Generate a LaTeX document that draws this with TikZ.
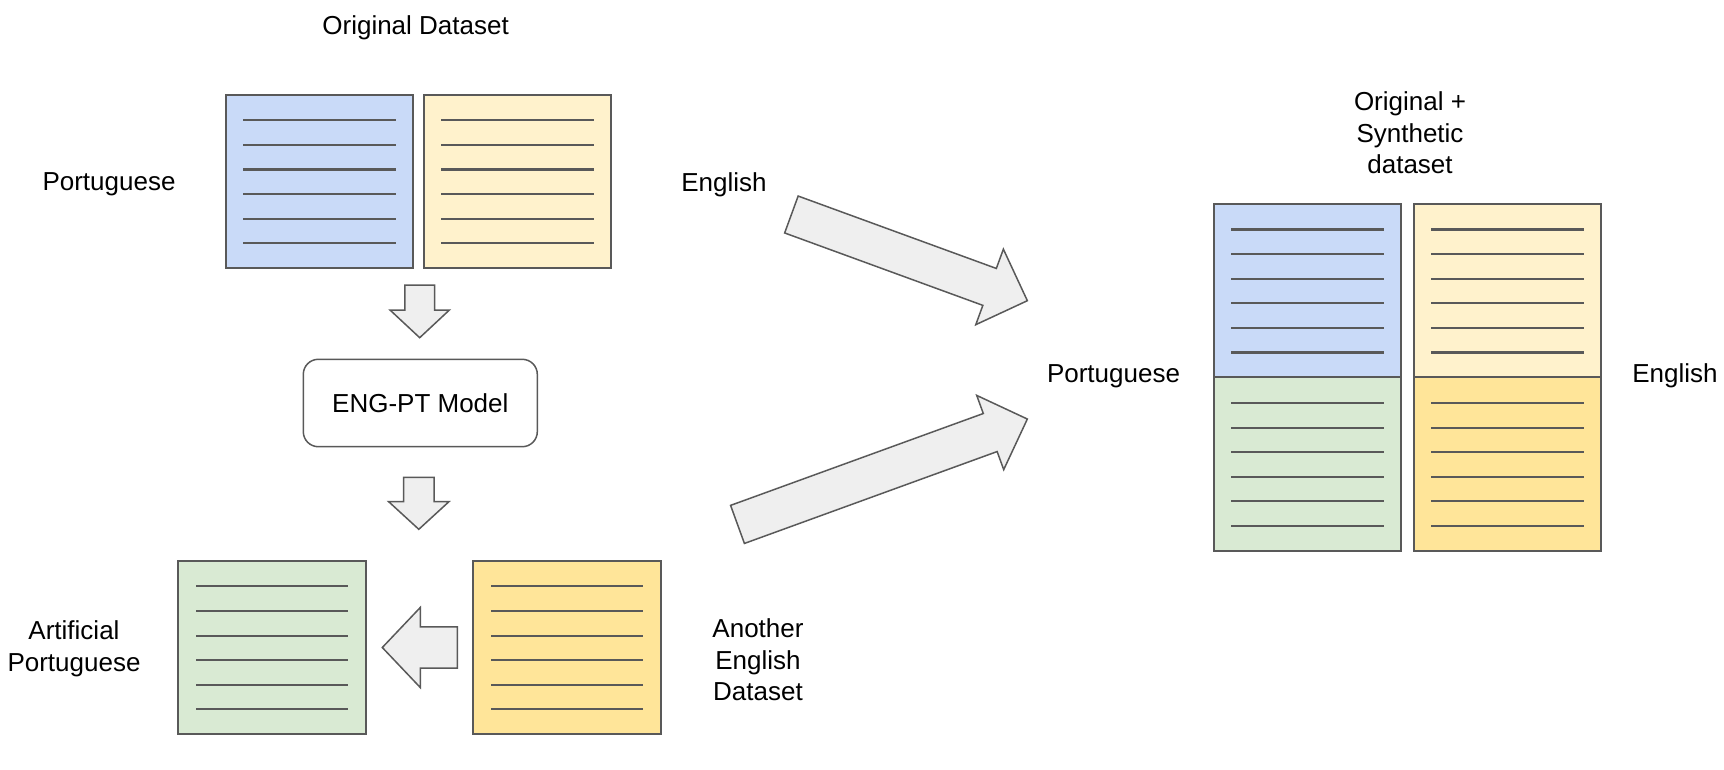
\documentclass[tikz,border=0pt]{standalone}
\usepackage{fontspec}
\setmainfont{Liberation Sans}
\usetikzlibrary{shapes.arrows}

\definecolor{ptblue}{HTML}{C9DAF8}
\definecolor{enpale}{HTML}{FFF2CC}
\definecolor{engold}{HTML}{FFE599}
\definecolor{ptgreen}{HTML}{D9EAD3}
\definecolor{edge}{HTML}{595959}
\definecolor{arrowfill}{HTML}{EFEFEF}

\begin{document}
\begin{tikzpicture}[x=1pt, y=-1pt,
    every node/.style={font=\fontsize{26}{31.5}\selectfont},
    doc/.style={draw=edge, line width=2pt, inner sep=0pt, outer sep=0pt,
        minimum width=187.6pt, minimum height=173.6pt},
    docline/.style={draw=edge, line width=2.1pt},
    blockarrow/.style={single arrow, draw=edge, fill=arrowfill, line width=1.5pt,
        inner xsep=0pt, outer sep=0pt, single arrow head indent=0pt, anchor=tail},
    label/.style={align=center}]
        \useasboundingbox (0,0) rectangle (1724,769);

        % Original dataset (top left)
        \node[doc, fill=ptblue] (origpt) at (319.5, 181.5) {};
        \node[doc, fill=enpale] (origen) at (517.5, 181.5) {};

        % Translated dataset (bottom left)
        \node[doc, fill=ptgreen] (artpt) at (272.2, 647.6) {};
        \node[doc, fill=engold] (anoen) at (567.2, 647.6) {};

        % Original + synthetic (right)
        \node[doc, fill=ptblue] (sumpt) at (1307.5, 290.7) {};
        \node[doc, fill=enpale] (sumen) at (1507.3, 290.7) {};
        \node[doc, fill=ptgreen] (sumart) at (1307.5, 464.2) {};
        \node[doc, fill=engold] (sumano) at (1507.3, 464.2) {};

        % Text lines in every sheet
        \foreach \b in {origpt, origen, artpt, anoen, sumpt, sumen, sumart, sumano}{
            \foreach \i in {0,1,2,3,4,5}{
                \draw[docline] (\b.north west) ++(17.6, {25.6+24.6*\i}) -- ++(152.4, 0);
            }
        }

        % Model
        \node[draw=edge, line width=1.5pt, rounded corners=15pt, minimum width=234pt,
            minimum height=87.4pt] (model) at (420.3, 403) {ENG-PT Model};

        % Block arrows
        \node[blockarrow, rotate=-90, minimum height=52.7pt, inner ysep=14.15pt,
            single arrow head extend=14.65pt, single arrow tip angle=94] (down1) at (419.7, 285) {};
        \node[blockarrow, rotate=-90, minimum height=52pt, inner ysep=14.5pt,
            single arrow head extend=15pt, single arrow tip angle=95] (down2) at (418.8, 477.3) {};
        \node[blockarrow, rotate=180, minimum height=75pt, inner ysep=19.8pt,
            single arrow head extend=19.55pt, single arrow tip angle=93] (left) at (457.3, 647.5) {};
        \node[blockarrow, rotate=-20.07, minimum height=251.2pt, inner ysep=18.9pt,
            single arrow head extend=20.55pt, single arrow tip angle=90] (diagup) at (791.4, 214.5) {};
        \node[blockarrow, rotate=19.98, minimum height=308.4pt, inner ysep=19.5pt,
            single arrow head extend=19.25pt, single arrow tip angle=90] (diagdown) at (737.5, 524.4) {};

        % Labels
        \node[anchor=base] (origlabel) at (415.6, 34.3) {Original Dataset};
        \node[anchor=base] (ptlabel) at (109, 190.7) {Portuguese};
        \node[anchor=base] (enlabel) at (724, 191.7) {English};
        \node[label] (artlabel) at (74, 649) {Artificial\\Portuguese};
        \node[label] (anolabel) at (758, 660) {Another\\English\\Dataset};
        \node[label] (sumlabel) at (1410, 133) {Original +\\Synthetic\\dataset};
        \node[anchor=base] (sumptlabel) at (1113.5, 382.7) {Portuguese};
        \node[anchor=base] (sumenlabel) at (1675, 382.7) {English};
    \end{tikzpicture}
\end{document}
